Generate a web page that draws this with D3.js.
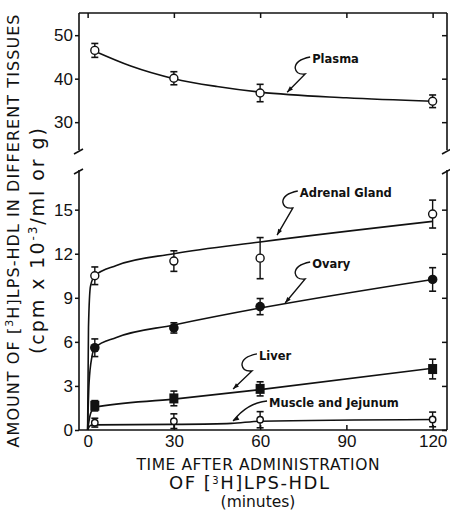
<!DOCTYPE html>
<html>
<head>
<meta charset="utf-8">
<script src="https://cdn.jsdelivr.net/npm/d3@7"></script>
<style>
  body { margin: 0; background: #fff; }
  svg { display: block; font-family: "DejaVu Sans", sans-serif; }
</style>
</head>
<body>
<div id="chart"></div>
<script>
const width = 450,
    height = 511;

// sampling times (minutes) and measured values
const times = [2.5, 30, 60, 120];
const plasma = [46.5, 40.1, 36.7, 34.8],
    plasmaErr = [1.6, 1.5, 2.0, 1.45];
const adrenal = [10.5, 11.5, 11.7, 14.7],
    adrenalErr = [0.6, 0.7, 1.4, 0.95];
const ovary = [5.6, 6.95, 8.4, 10.25],
    ovaryErr = [0.6, 0.35, 0.55, 0.8];
const liver = [1.65, 2.15, 2.8, 4.15],
    liverErr = [0.35, 0.5, 0.48, 0.67];
const muscle = [0.5, 0.6, 0.7, 0.72],
    muscleErr = [0.3, 0.5, 0.55, 0.5];

// hand-drawn fit curves
const plasmaFitT = [2.5, 15, 30, 45, 60, 90, 120],
    plasmaFit = [46.3, 42.9, 40.0, 38.2, 36.9, 35.6, 34.8];
const adrenalFitT = [0, 0.3, 1, 2.5, 10, 30, 60, 120],
    adrenalFit = [0, 7, 9.8, 10.5, 11.2, 12.0, 12.8, 14.2];
const ovaryFitT = [0, 0.5, 1.5, 2.5, 10, 30, 60, 120],
    ovaryFit = [0, 3.2, 5.0, 5.6, 6.3, 7.15, 8.3, 10.25];
const liverFitT = [0, 1, 2.5, 30, 60, 120],
    liverFit = [0, 1.1, 1.55, 2.1, 2.75, 4.2];
const muscleFitT = [0, 1, 2.5, 30, 50, 60, 120],
    muscleFit = [0, 0.3, 0.35, 0.38, 0.45, 0.6, 0.72];

// tick labels
const xTicks = [0, 30, 60, 90, 120];
const topTicks = [30, 40, 50];
const bottomTicks = [0, 3, 6, 9, 12, 15];

const x = d3.scaleLinear().domain([-3, 125]).range([79, 447]);
const yTop = d3.scaleLinear().domain([23.6, 55.1]).range([150, 13]);
const yBot = d3.scaleLinear().domain([0, 17.7]).range([430, 170]);

const svg = d3.select("#chart")
    .append("svg")
    .attr("width", width)
    .attr("height", height);

const ink = "#111";

// frame of the two panels
function frameLine(x1, y1, x2, y2) {
    svg.append("line")
        .attr("x1", x1).attr("y1", y1).attr("x2", x2).attr("y2", y2)
        .attr("stroke", ink).attr("stroke-width", 1.6);
}
const [xl, xr] = x.range();
frameLine(xl, yTop.range()[1], xr, yTop.range()[1]);
frameLine(xl, yTop.range()[1], xl, yTop.range()[0]);
frameLine(xr, yTop.range()[1], xr, yTop.range()[0]);
frameLine(xl, yBot.range()[1], xl, yBot.range()[0]);
frameLine(xr, yBot.range()[1], xr, yBot.range()[0]);
frameLine(xl, yBot.range()[0], xr, yBot.range()[0]);

// axis break marks
[xl, xr].forEach(px => {
    [yTop.range()[0] + 1, yBot.range()[1] + 1].forEach(py => {
        svg.append("line")
            .attr("x1", px - 5).attr("y1", py + 3)
            .attr("x2", px + 4).attr("y2", py - 2)
            .attr("stroke", ink).attr("stroke-width", 1.6);
    });
});

function styleAxis(g) {
    g.select(".domain").remove();
    g.selectAll(".tick line").attr("stroke", ink).attr("stroke-width", 1.5);
    g.selectAll(".tick text")
        .attr("fill", ink)
        .style("font-size", "17px");
}

// left axes (ticks outward with labels)
svg.append("g")
    .attr("transform", `translate(${xl},0)`)
    .call(d3.axisLeft(yTop).tickValues(topTicks).tickSize(4).tickPadding(2))
    .call(styleAxis);
svg.append("g")
    .attr("transform", `translate(${xl},0)`)
    .call(d3.axisLeft(yBot).tickValues(bottomTicks).tickSize(4).tickPadding(2))
    .call(styleAxis);

// right axes (ticks inward, no labels)
svg.append("g")
    .attr("transform", `translate(${xr},0)`)
    .call(d3.axisLeft(yTop).tickValues(topTicks).tickSize(5).tickFormat(""))
    .call(styleAxis);
svg.append("g")
    .attr("transform", `translate(${xr},0)`)
    .call(d3.axisLeft(yBot).tickValues(bottomTicks).tickSize(5).tickFormat(""))
    .call(styleAxis);

// top border ticks pointing down
svg.append("g")
    .attr("transform", `translate(0,${yTop.range()[1]})`)
    .call(d3.axisBottom(x).tickValues(xTicks).tickSize(5).tickFormat(""))
    .call(styleAxis);

// bottom axis, ticks inward and labels below
svg.append("g")
    .attr("transform", `translate(0,${yBot.range()[0]})`)
    .call(d3.axisBottom(x).tickValues(xTicks).tickSize(-5).tickPadding(5))
    .call(styleAxis);

// fit curves
const line = d3.line().curve(d3.curveMonotoneX);
function drawFit(ts, vs, y) {
    svg.append("path")
        .attr("d", line(ts.map((t, i) => [x(t), y(vs[i])])))
        .attr("fill", "none")
        .attr("stroke", ink)
        .attr("stroke-width", 1.6);
}
drawFit(plasmaFitT, plasmaFit, yTop);
drawFit(adrenalFitT, adrenalFit, yBot);
drawFit(ovaryFitT, ovaryFit, yBot);
drawFit(liverFitT, liverFit, yBot);
drawFit(muscleFitT, muscleFit, yBot);

// error bars and markers
function drawSeries(vals, errs, y, shape) {
    const g = svg.append("g");
    times.forEach((t, i) => {
        const cx = x(t), lo = y(vals[i] - errs[i]), hi = y(vals[i] + errs[i]);
        g.append("line").attr("x1", cx).attr("x2", cx).attr("y1", lo).attr("y2", hi)
            .attr("stroke", ink).attr("stroke-width", 1.4);
        [lo, hi].forEach(py => g.append("line")
            .attr("x1", cx - 3.5).attr("x2", cx + 3.5).attr("y1", py).attr("y2", py)
            .attr("stroke", ink).attr("stroke-width", 1.6));
        const cy = y(vals[i]);
        if (shape === "open") {
            g.append("circle").attr("cx", cx).attr("cy", cy).attr("r", 4)
                .attr("fill", "#fff").attr("stroke", ink).attr("stroke-width", 1.4);
        } else if (shape === "small") {
            g.append("circle").attr("cx", cx).attr("cy", cy).attr("r", 3.2)
                .attr("fill", "#fff").attr("stroke", ink).attr("stroke-width", 1.4);
        } else if (shape === "filled") {
            g.append("circle").attr("cx", cx).attr("cy", cy).attr("r", 4.8)
                .attr("fill", ink);
        } else {
            g.append("rect").attr("x", cx - 4.5).attr("y", cy - 5)
                .attr("width", 9).attr("height", 10).attr("fill", ink);
        }
    });
}
drawSeries(plasma, plasmaErr, yTop, "open");
drawSeries(adrenal, adrenalErr, yBot, "open");
drawSeries(ovary, ovaryErr, yBot, "filled");
drawSeries(liver, liverErr, yBot, "square");
drawSeries(muscle, muscleErr, yBot, "small");

// series labels with their squiggly leaders
const labels = [
    { text: "Plasma", t: 78.1, v: 43.6, tipT: 69.4, tipV: 36.9, y: yTop, kind: "s" },
    { text: "Adrenal Gland", t: 73.8, v: 15.86, tipT: 65.9, tipV: 13.27, y: yBot, kind: "s" },
    { text: "Ovary", t: 78.1, v: 11.03, tipT: 68.7, tipV: 8.65, y: yBot, kind: "s" },
    { text: "Liver", t: 59.6, v: 4.77, tipT: 50.6, tipV: 2.79, y: yBot, kind: "s" },
    { text: "Muscle and Jejunum", t: 63.1, v: 1.57, tipT: 50.6, tipV: 0.61, y: yBot, kind: "c" }
];

labels.forEach(d => {
    const lx = x(d.t), ly = d.y(d.v);
    const tx = x(d.tipT), ty = d.y(d.tipV);
    svg.append("text")
        .attr("x", lx).attr("y", ly)
        .attr("fill", ink)
        .style("font-size", "11.5px")
        .style("font-weight", "bold")
        .text(d.text);
    const sx = lx - 2, sy = ly - 6;
    let p, ex, ey;
    if (d.kind === "s") {
        ex = sx - 5; ey = sy + 17;
        p = `M${sx},${sy} Q${sx - 15},${sy + 3} ${sx - 15},${sy + 11} Q${sx - 14},${sy + 18} ${ex},${ey} L${tx},${ty}`;
    } else {
        ex = sx - 14; ey = sy + 8;
        p = `M${sx},${sy} Q${sx - 20},${sy + 2} ${tx},${ty}`;
    }
    svg.append("path")
        .attr("d", p)
        .attr("fill", "none")
        .attr("stroke", ink)
        .attr("stroke-width", 1.4);
    // arrowhead at the tip
    const ang = Math.atan2(ty - ey, tx - ex);
    const len = 6, half = 2.2;
    const bx = tx - len * Math.cos(ang), by = ty - len * Math.sin(ang);
    svg.append("path")
        .attr("d", `M${tx},${ty} L${bx - half * Math.sin(ang)},${by + half * Math.cos(ang)} L${bx + half * Math.sin(ang)},${by - half * Math.cos(ang)} Z`)
        .attr("fill", ink);
});

// y axis title (two lines)
const yTitle = svg.append("text")
    .attr("transform", "translate(19,231) rotate(-90)")
    .attr("text-anchor", "middle")
    .attr("fill", ink)
    .attr("textLength", 433)
    .attr("lengthAdjust", "spacing")
    .style("font-size", "16px");
yTitle.append("tspan").text("AMOUNT OF [");
yTitle.append("tspan").attr("dy", -6).style("font-size", "11px").text("3");
yTitle.append("tspan").attr("dy", 6).text("H]LPS-HDL IN DIFFERENT TISSUES");

const yTitle2 = svg.append("text")
    .attr("transform", "translate(44,241) rotate(-90)")
    .attr("text-anchor", "middle")
    .attr("fill", ink)
    .attr("textLength", 226)
    .attr("lengthAdjust", "spacing")
    .style("font-size", "19px");
yTitle2.append("tspan").text("(cpm x 10");
yTitle2.append("tspan").attr("dy", -7).style("font-size", "12px").text("-3");
yTitle2.append("tspan").attr("dy", 7).text("/ml or g)");

// x axis title
svg.append("text")
    .attr("x", 258).attr("y", 470)
    .attr("text-anchor", "middle")
    .attr("fill", ink)
    .attr("textLength", 243)
    .attr("lengthAdjust", "spacing")
    .style("font-size", "15.5px")
    .text("TIME AFTER ADMINISTRATION");

const xTitle2 = svg.append("text")
    .attr("x", 249).attr("y", 489)
    .attr("text-anchor", "middle")
    .attr("fill", ink)
    .attr("textLength", 160)
    .attr("lengthAdjust", "spacing")
    .style("font-size", "18px");
xTitle2.append("tspan").text("OF [");
xTitle2.append("tspan").attr("dy", -5).style("font-size", "10px").text("3");
xTitle2.append("tspan").attr("dy", 5).text("H]LPS-HDL");

svg.append("text")
    .attr("x", 258).attr("y", 507)
    .attr("text-anchor", "middle")
    .attr("fill", ink)
    .style("font-size", "15.5px")
    .text("(minutes)");
</script>
</body>
</html>
